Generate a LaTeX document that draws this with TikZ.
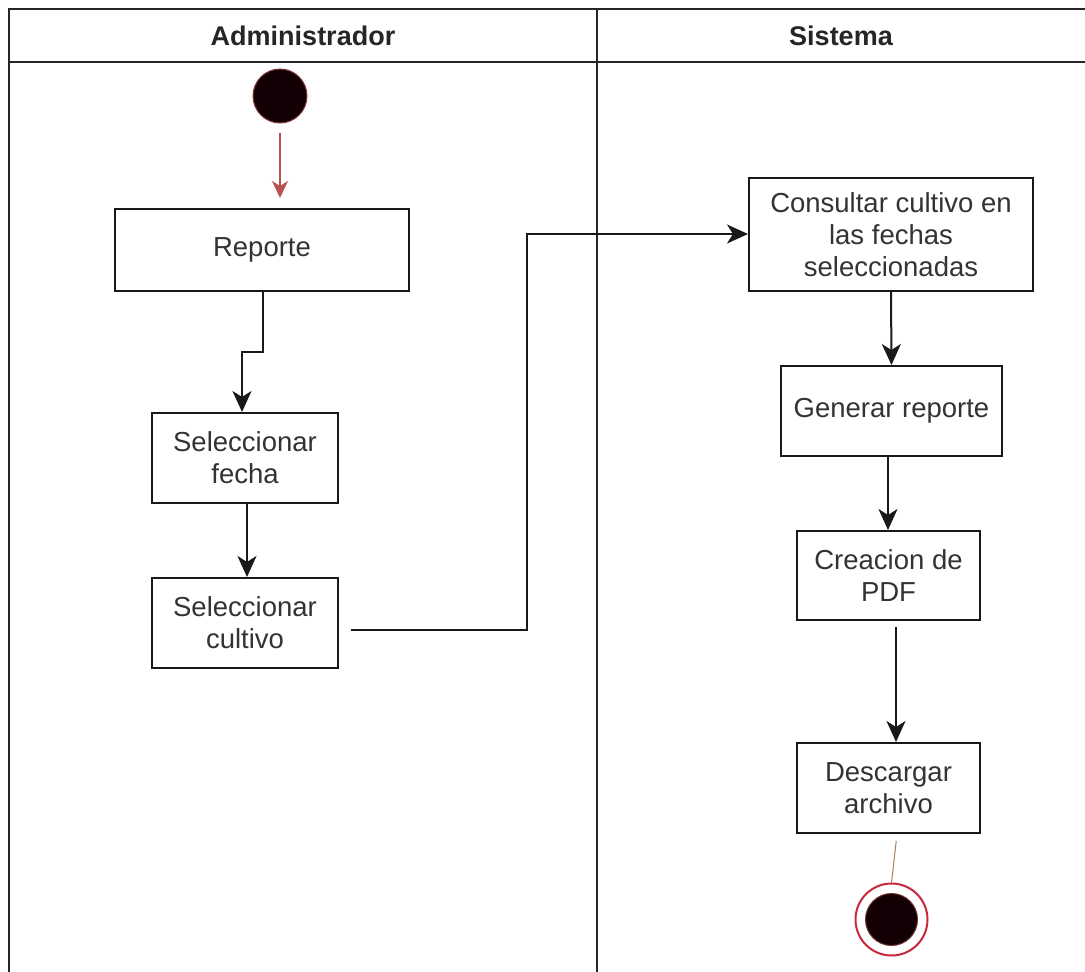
\documentclass[tikz,border=0pt]{standalone}
\usepackage{fontspec}
\setmainfont{Liberation Sans}
\usetikzlibrary{arrows.meta}
\definecolor{flowred}{HTML}{B85450}
\definecolor{ringred}{HTML}{C8283C}
\definecolor{darkfill}{HTML}{120004}
\tikzset{
  lane/.style={line width=2pt,draw=black!85},
  lanetitle/.style={font=\fontsize{27}{32}\selectfont\bfseries,text=black!85},
  action/.style={draw=black!90,line width=2pt,fill=white,align=center,
    inner sep=0pt,font=\fontsize{27.5}{32}\selectfont,text=black!80},
  flowtip/.tip={Stealth[length=21pt,width=19pt,inset=6pt]},
  starttip/.tip={Stealth[length=17pt,width=16pt,inset=5pt]},
  flow/.style={line width=2pt,draw=black!90,-flowtip},
  startflow/.style={line width=1.5pt,draw=flowred,-starttip},
}
\begin{document}
\begin{tikzpicture}[x=1pt,y=-1pt]
\useasboundingbox (0,0) rectangle (1085,972);
\fill[white] (0,0) rectangle (1085,972);

% swimlane frame
\draw[lane] (1085,9) -- (9,9) -- (9,972);
\draw[lane] (9,62) -- (1085,62);
\draw[lane] (597,9) -- (597,972);
\node[lanetitle] (titleA) at (303,36) {Administrador};
\node[lanetitle] (titleS) at (841,36) {Sistema};

% initial and final states
\node[circle,fill=darkfill,draw=flowred!70!black,line width=1pt,
  minimum size=54pt,inner sep=0pt] (start) at (280,96) {};
\node[circle,draw=ringred,line width=2pt,minimum size=72pt,inner sep=0pt] (finish) at (891.5,919.5) {};
\node[circle,fill=darkfill,draw=flowred!60!black,line width=1pt,
  minimum size=52pt,inner sep=0pt] (finishdot) at (891.5,919.5) {};

% actions
\node[action,minimum width=294pt,minimum height=82pt] (rep) at (262,250) {Reporte};
\node[action,minimum width=186pt,minimum height=90pt] (fecha) at (245,458) {Seleccionar\\fecha};
\node[action,minimum width=186pt,minimum height=90pt] (cult) at (245,623) {Seleccionar\\cultivo};
\node[action,minimum width=284pt,minimum height=113pt] (cons) at (891,234.5) {Consultar cultivo en\\las fechas\\seleccionadas};
\node[action,minimum width=221pt,minimum height=90pt] (gen) at (891.5,411) {Generar reporte};
\node[action,minimum width=183pt,minimum height=89pt] (pdf) at (888.5,575.5) {Creacion de\\PDF};
\node[action,minimum width=183pt,minimum height=90pt] (desc) at (888.5,788) {Descargar\\archivo};

% connectors
\coordinate (jogA) at (263,352);
\coordinate (jogB) at (242,352);
\coordinate (routeA) at (527,630);
\coordinate (routeB) at (527,234);

\draw[startflow,shorten <=9pt,shorten >=10pt] (start.south) -- (start.south |- rep.north);
\draw[flow] (rep.south -| jogA) -- (jogA) -- (jogB) -- (jogB |- fecha.north);
\draw[flow] (fecha.south -| 247,0) -- (247,0 |- cult.north);
\draw[flow,shorten <=12pt] (cult.east |- routeA) -- (routeA) -- (routeB) -- (routeB -| cons.west);
\draw[flow] (cons.south) -- (gen.north);
\draw[flow] (gen.south -| 888,0) -- (888,0 |- pdf.north);
\draw[flow,shorten <=6pt] (pdf.south -| 896,0) -- (896,0 |- desc.north);
\draw[line width=1pt,draw=brown!60!gray,shorten <=7pt] (desc.south -| 897,0) -- (finish.north);
\end{tikzpicture}
\end{document}
